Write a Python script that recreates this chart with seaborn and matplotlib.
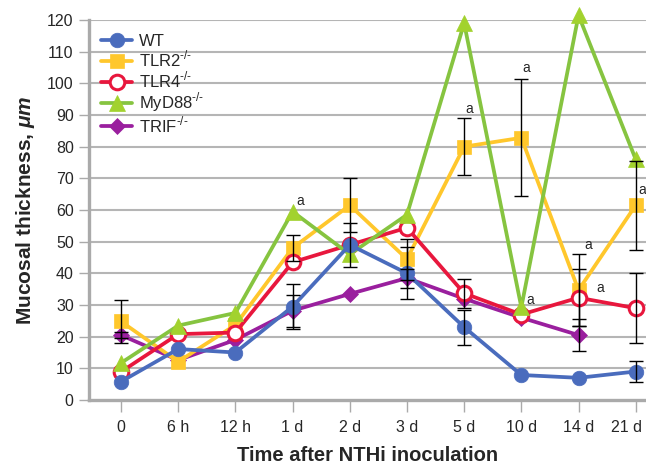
import seaborn as sns
import pandas as pd
import matplotlib.pyplot as plt
import matplotlib.transforms as mtrans
import numpy as np

# time points after inoculation
times = ['0', '6 h', '12 h', '1 d', '2 d', '3 d', '5 d', '10 d', '14 d', '21 d']

# mean mucosal thickness (um); nan = no point
wt = [5.8, 16.1, 15.0, 29.5, 49.0, 40.0, 23.0, 7.9, 7.0, 9.0]
tlr2 = [24.8, 12.1, 23.7, 48.0, 61.5, 44.5, 80.0, 82.8, 34.7, 61.5]
tlr4 = [8.9, 20.8, 21.3, 43.5, 49.0, 54.4, 33.7, 27.0, 32.3, 29.0]
myd88 = [11.7, 23.5, 27.5, 59.5, 46.0, 58.5, 119.0, 29.3, 121.5, 76.0]
trif = [20.5, 12.6, 19.0, 28.2, 33.5, 38.5, 32.0, 26.0, 20.5, np.nan]

# error bar half widths (nan = no bar drawn)
wt_err = [np.nan, np.nan, np.nan, 7.0, 7.0, 8.2, 5.5, np.nan, np.nan, 3.2]
tlr2_err = [6.8, np.nan, np.nan, 4.0, 8.5, 6.5, 9.0, 18.5, 11.3, 14.0]
tlr4_err = [np.nan, np.nan, np.nan, np.nan, np.nan, np.nan, 4.5, np.nan, 9.0, 11.0]
myd88_err = [np.nan] * 10
trif_err = [1.0, np.nan, np.nan, 5.0, np.nan, 3.0, np.nan, np.nan, 5.0, np.nan]

# significance marks "a": (time index offset, y)
sig_x = [3.06, 6.03, 7.01, 7.08, 8.1, 8.32, 9.04]
sig_y = [62.8, 92.0, 104.8, 31.6, 49.0, 35.4, 66.3]

groups = ['WT', r'TLR2$^{\text{-/-}}$', r'TLR4$^{\text{-/-}}$', r'MyD88$^{\text{-/-}}$', r'TRIF$^{\text{-/-}}$']
means = [wt, tlr2, tlr4, myd88, trif]
errs = [wt_err, tlr2_err, tlr4_err, myd88_err, trif_err]

colors = ['#4a6cbd', '#ffc72c', '#e8173d', '#86c440', '#9a1f9e']
mcolors = ['#4a6cbd', '#ffc72c', 'white', '#a2d22e', '#9a1f9e']
markers = ['o', 's', 'o', '^', 'D']
msizes = [10.5, 9.5, 10.5, 11, 8.5]

rows = []
for g, m in zip(groups, means):
    for i, v in enumerate(m):
        rows.append({'group': g, 'x': i, 'y': v})
df = pd.DataFrame(rows)

sns.set_style('white')
plt.rcParams['font.family'] = ['Liberation Sans', 'DejaVu Sans']
plt.rcParams['mathtext.fontset'] = 'custom'
plt.rcParams['mathtext.rm'] = 'Liberation Sans'
plt.rcParams['mathtext.bfit'] = 'Liberation Sans:italic:bold'

fig = plt.figure(figsize=(6.46, 4.67), dpi=100)
ax = fig.add_axes([89 / 646, 67 / 467, 1 - 89 / 646, 380 / 467])

# draw order so WT ends on top, like the original
draw_order = [4, 1, 2, 3, 0]
for k in draw_order:
    sub = df[df.group == groups[k]].dropna()
    sns.lineplot(data=sub, x='x', y='y', ax=ax, color=colors[k], lw=2.7,
                 marker=markers[k], markersize=msizes[k],
                 markerfacecolor=mcolors[k], markeredgecolor=colors[k] if k == 2 else mcolors[k],
                 markeredgewidth=2.2 if k == 2 else 0.5,
                 label=groups[k], zorder=3 + draw_order.index(k), clip_on=False)
    e = np.array(errs[k])
    ok = ~np.isnan(e)
    xs = np.arange(len(times))[ok]
    ax.errorbar(xs, np.array(means[k])[ok], yerr=e[ok], fmt='none', ecolor='black',
                elinewidth=1, capsize=5, capthick=1, zorder=10)

for sx, sy in zip(sig_x, sig_y):
    ax.text(sx, sy, 'a', fontsize=10, ha='left', va='center', zorder=12)

ax.set_xlim(-0.56, 9.18)
ax.set_ylim(0, 120)
ax.set_yticks(range(0, 121, 10))
ax.set_xticks(range(len(times)))
ax.set_xticklabels(times, fontsize=11.5)
ax.tick_params(axis='y', labelsize=11.5, length=7, width=1, color='#aaaaaa', pad=4, left=True)
ax.tick_params(axis='x', length=8.5, width=1, color='#aaaaaa', pad=6, bottom=True)
# last label sits a bit left so it fits in the figure
last = ax.get_xticklabels()[-1]
last.set_transform(last.get_transform() + mtrans.ScaledTranslation(-9 / 100, 0, fig.dpi_scale_trans))
for y in range(10, 121, 10):
    ax.axhline(y, color='#b5b5b5', lw=1.5, zorder=1)

for s in ['top', 'right']:
    ax.spines[s].set_visible(False)
for s in ['left', 'bottom']:
    ax.spines[s].set_color('#aaaaaa')
    ax.spines[s].set_linewidth(2.4)

ax.set_xlabel('Time after NTHi inoculation', fontsize=14.5, fontweight='bold', labelpad=8)
ax.set_ylabel(r'Mucosal thickness, $\mathbfit{\mu m}$', fontsize=15, fontweight='bold', labelpad=7)

handles, labels = ax.get_legend_handles_labels()
lookup = dict(zip(labels, handles))
ax.legend([lookup[g] for g in groups], groups, loc='upper left', bbox_to_anchor=(0.0, 0.995),
          frameon=False, fontsize=12, handlelength=1.9, handletextpad=0.4, labelspacing=0.02,
          borderaxespad=0.3)

fig.savefig('out.png', dpi=100)
